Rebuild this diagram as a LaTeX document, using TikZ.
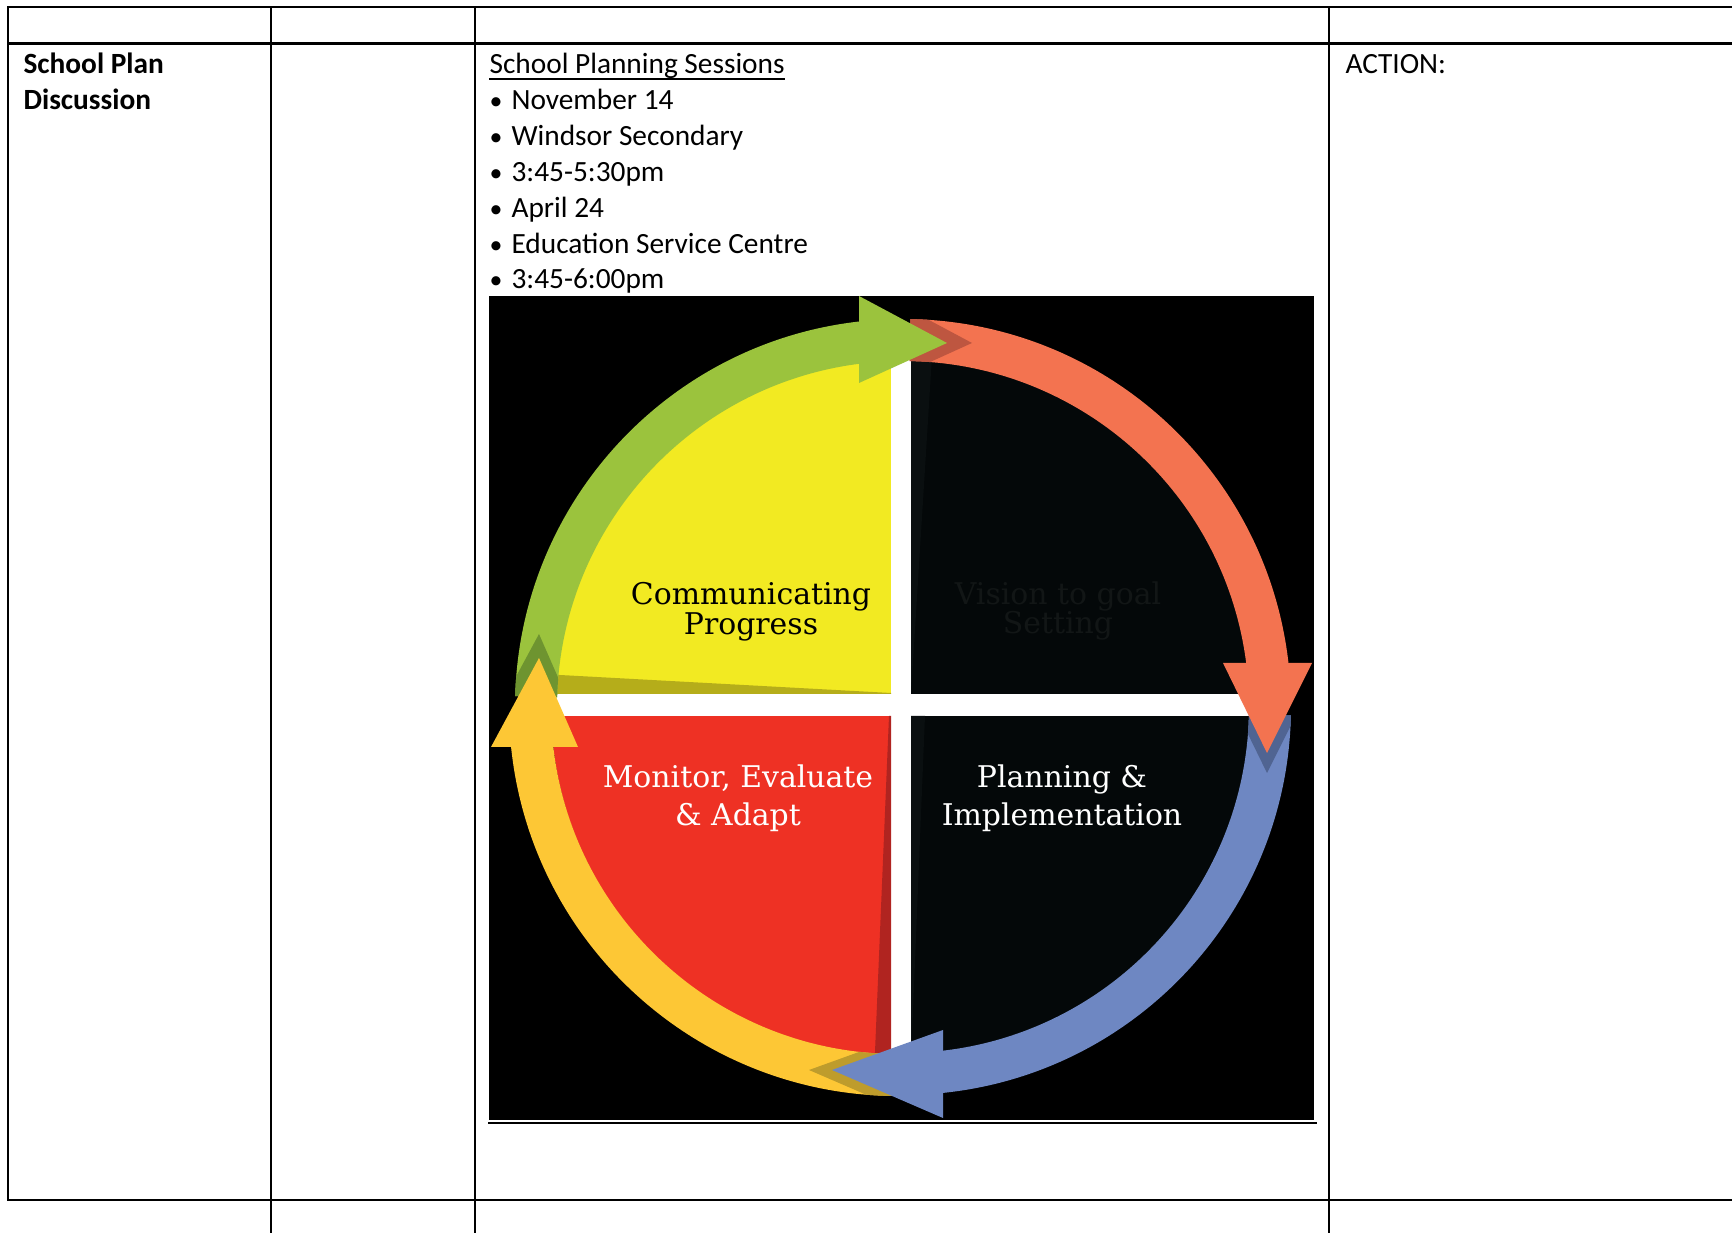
\documentclass[tikz,border=0pt]{standalone}
\usepackage{fontspec}
\setmainfont{Carlito}
\newfontfamily\slab{DejaVu Serif}
\usetikzlibrary{calc}
\definecolor{grn}{RGB}{155,195,61}
\definecolor{grnD}{RGB}{110,148,48}
\definecolor{yq}{RGB}{242,234,34}
\definecolor{yqD}{RGB}{181,173,26}
\definecolor{org}{RGB}{243,115,80}
\definecolor{orgD}{RGB}{190,86,64}
\definecolor{blu}{RGB}{110,135,194}
\definecolor{bluD}{RGB}{80,100,146}
\definecolor{rq}{RGB}{238,49,36}
\definecolor{rqD}{RGB}{176,36,32}
\definecolor{ylw}{RGB}{253,199,53}
\definecolor{ylwD}{RGB}{190,156,44}
\definecolor{qdark}{RGB}{4,8,9}
\definecolor{qdarkB}{RGB}{10,15,16}
\definecolor{qtext}{RGB}{18,22,22}
\begin{document}
\begin{tikzpicture}[x=0.368pt,y=-0.368pt,
  hline/.style={line width=0.8pt},
  vline/.style={line width=0.72pt},
  ttext/.style={inner sep=0pt,anchor=base west,font=\fontsize{10.8}{13}\selectfont},
  btext/.style={ttext,font=\fontsize{10.8}{13}\selectfont\bfseries},
  bul/.style={inner sep=0pt,anchor=base west,font=\fontsize{9.5}{13}\selectfont},
  dtext/.style={inner sep=0pt,anchor=base,font=\slab\fontsize{11}{13}\selectfont}]
\useasboundingbox (0,0) rectangle (1732,1233);
% ---- table grid
\draw[hline] (8,7) -- (1732,7);
\draw[hline] (8,43.5) -- (1732,43.5);
\draw[hline] (8,1200) -- (1732,1200);
\draw[vline] (8,6.5) -- (8,1200.5);
\draw[vline] (271,6.5) -- (271,1233);
\draw[vline] (475,6.5) -- (475,1233);
\draw[vline] (1329,6.5) -- (1329,1233);
% ---- table text
\node[btext] (sp1) at (23,73.5) {School Plan};
\node[btext] (sp2) at (23,109.5) {Discussion};
\node[ttext] (sps) at (489,73.5) {School Planning Sessions};
\draw[line width=0.55pt] ($(sps.base west)+(0,5.3)$) -- ($(sps.base east)+(0,5.3)$);
\node[bul] (b1) at (489,109.5) {•};
\node[ttext] (t1) at (511,109.5) {November 14};
\node[bul] (b2) at (489,145.4) {•};
\node[ttext] (t2) at (511,145.4) {Windsor Secondary};
\node[bul] (b3) at (489,181.3) {•};
\node[ttext] (t3) at (511,181.3) {3:45-5:30pm};
\node[bul] (b4) at (489,217.2) {•};
\node[ttext] (t4) at (511,217.2) {April 24};
\node[bul] (b5) at (489,253.1) {•};
\node[ttext] (t5) at (511,253.1) {Education Service Centre};
\node[bul] (b6) at (489,289) {•};
\node[ttext] (t6) at (511,289) {3:45-6:00pm};
\node[ttext] (act) at (1345,73.5) {ACTION:};
% ---- diagram background
\fill[black] (489,296) rectangle (1314,1119.5);
\draw[line width=0.75pt] (488,1122.6) -- (1316.5,1122.6);
\coordinate (C) at (903,707);
\coordinate (CY) at (898,707);
% white cross (disk under the quadrants)
\fill[white] (C) circle[radius=348];
% quadrants
\begin{scope}
  \clip (C) circle[radius=352];
  \fill[yq] (400,300) rectangle (891,694);
  \fill[qdark] (911,300) rectangle (1400,694);
  \fill[rq] (400,716) rectangle (891,1120);
  \fill[qdark] (911,716) rectangle (1400,1120);
  \fill[yqD] (400,675) -- (560,675) -- (891,693) -- (891,694) -- (400,694) -- cycle;
  \fill[rqD] (889,716) -- (891,716) -- (891,1100) -- (873,1100) -- cycle;
  \fill[qdarkB] (911,340) -- (933,340) -- (911,694) -- cycle;
  \fill[qdarkB] (911,716) -- (925,716) -- (911,1060) -- cycle;
\end{scope}
% ---- arrow bands
\path[save path=\gband] ($(C)+(181.6:388)$) arc[start angle=181.6,end angle=264.5,radius=388]
   -- ($(C)+(264.5:346)$) arc[start angle=264.5,end angle=181.6,radius=346] -- cycle;
\path[save path=\oband] ($(C)+(271.1:388)$) arc[start angle=271.1,end angle=354.5,radius=388]
   -- ($(C)+(354.5:346)$) arc[start angle=354.5,end angle=271.1,radius=346] -- cycle;
\path[save path=\bband] ($(C)+(1.25:388)$) arc[start angle=1.25,end angle=85.2,radius=388]
   -- ($(C)+(85.2:346)$) arc[start angle=85.2,end angle=1.25,radius=346] -- cycle;
\path[save path=\yband] ($(CY)+(88:389)$) arc[start angle=88,end angle=175.2,radius=389]
   -- ($(CY)+(175.2:347)$) arc[start angle=175.2,end angle=88,radius=347] -- cycle;
\fill[grn,use path=\gband];
\fill[org,use path=\oband];
\fill[blu,use path=\bband];
\fill[ylw,use path=\yband];
% ---- shadows of the heads on the next band
\begin{scope}\clip[use path=\oband];
  \fill[orgD] (884,296) -- (972,343) -- (884,383) -- cycle;\end{scope}
\begin{scope}\clip[use path=\bband];
  \fill[bluD] (1223,683) -- (1267,773) -- (1312,683) -- cycle;\end{scope}
\begin{scope}\clip[use path=\yband];
  \fill[ylwD] (920,1030) -- (809,1070) -- (920,1118) -- cycle;\end{scope}
\begin{scope}\clip[use path=\gband];
  \fill[grnD] (491,723) -- (539,634) -- (578,723) -- cycle;\end{scope}
% ---- heads
\fill[grn] (859,296) -- (947,343) -- (859,383) -- cycle;
\fill[org] (1223,663) -- (1267,753) -- (1312,663) -- cycle;
\fill[blu] (943,1030) -- (832,1070) -- (943,1118) -- cycle;
\fill[ylw] (491,747) -- (539,658) -- (578,747) -- cycle;
% ---- labels
\node[dtext] (cp1) at (751,605) {Communicating};
\node[dtext] (cp2) at (751,635) {Progress};
\node[dtext,text=qtext] (vg1) at (1058,605) {Vision to goal};
\node[dtext,text=qtext] (vg2) at (1058,634) {Setting};
\node[dtext,text=white] (me1) at (738,788) {Monitor, Evaluate};
\node[dtext,text=white] (me2) at (738,826) {\& Adapt};
\node[dtext,text=white] (pi1) at (1062,788) {Planning \&};
\node[dtext,text=white] (pi2) at (1062,826) {Implementation};
\end{tikzpicture}
\end{document}
